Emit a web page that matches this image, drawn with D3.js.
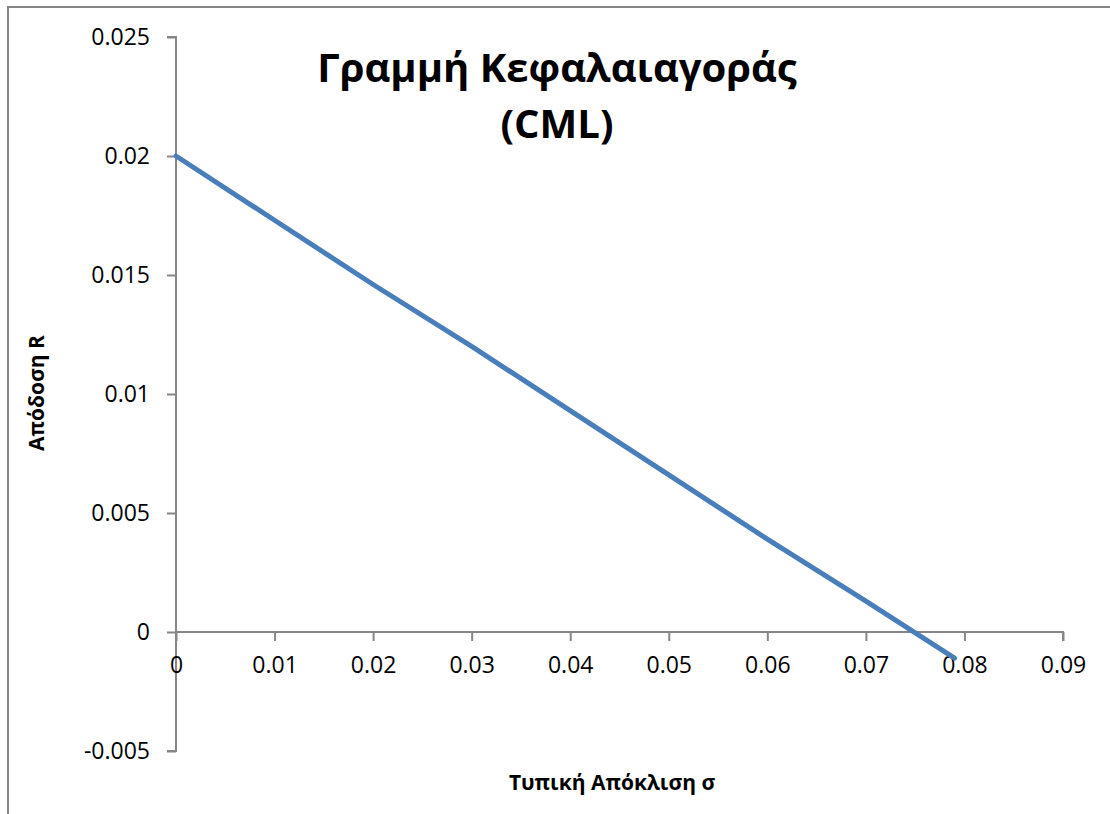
<!DOCTYPE html>
<html>
<head>
<meta charset="utf-8">
<script src="https://cdn.jsdelivr.net/npm/d3@7"></script>
<style>
  html, body { margin: 0; padding: 0; background: #fff; }
  svg { display: block; }
  text { font-family: "Open Sans", "Noto Sans", sans-serif; fill: #000; }
</style>
</head>
<body>
<svg id="chart" width="1110" height="814"></svg>
<script>
// Capital Market Line: expected return vs. standard deviation
const sigma = [0, 0.01, 0.02, 0.03, 0.04, 0.05, 0.06, 0.07, 0.079];
const returns = [0.02, 0.0173, 0.0146, 0.0120, 0.0093, 0.0066, 0.0039, 0.0013, -0.0011];

const xTicks = [0, 0.01, 0.02, 0.03, 0.04, 0.05, 0.06, 0.07, 0.08, 0.09];
const yTicks = [-0.005, 0, 0.005, 0.01, 0.015, 0.02, 0.025];

const titleLines = ["Γραμμή Κεφαλαιαγοράς", "(CML)"];
const xTitle = "Τυπική Απόκλιση σ";
const yTitle = "Απόδοση R";

const svg = d3.select("#chart");
const axisColor = "#868686";

// chart frame (top and left edges visible)
svg.append("path")
  .attr("d", "M8,814 L8,7 L1110,7")
  .attr("fill", "none")
  .attr("stroke", axisColor)
  .attr("stroke-width", 2);

const x = d3.scaleLinear().domain([0, 0.09]).range([176, 1063]);
const y = d3.scaleLinear().domain([-0.005, 0.025]).range([751, 37]);

// y axis
const yAxis = svg.append("g")
  .attr("transform", `translate(${x(0)},0)`)
  .call(d3.axisLeft(y).tickValues(yTicks).tickSize(9).tickPadding(17)
    .tickFormat(d => d === 0 ? "0" : String(+d.toFixed(3))));
// x axis at y = 0
const xAxis = svg.append("g")
  .attr("transform", `translate(0,${y(0)})`)
  .call(d3.axisBottom(x).tickValues(xTicks).tickSize(9).tickPadding(16)
    .tickFormat(d => d === 0 ? "0" : String(+d.toFixed(2))));

[yAxis, xAxis].forEach(g => {
  g.select(".domain").attr("stroke", axisColor).attr("stroke-width", 2);
  g.selectAll(".tick line").attr("stroke", axisColor).attr("stroke-width", 2);
  g.selectAll(".tick text")
    .style("font-family", "'Open Sans', sans-serif")
    .style("font-size", "23px")
    .attr("fill", "#000");
});
// trim the axis domains to the plot extents
xAxis.select(".domain").attr("d", `M${x(0)},0H${x(0.09)}V9`);
yAxis.select(".domain").attr("d", `M-9,${y(-0.005)}H0V${y(0.025)}H-9`);

// data line
const line = d3.line().x((d, i) => x(sigma[i])).y(d => y(d));
svg.append("path")
  .datum(returns)
  .attr("d", line)
  .attr("fill", "none")
  .attr("stroke", "#4A7EBB")
  .attr("stroke-width", 5)
  .attr("stroke-linecap", "round");

// title
svg.append("text")
  .attr("text-anchor", "middle")
  .style("font-size", "40px")
  .style("font-weight", "bold")
  .selectAll("tspan")
  .data(titleLines)
  .join("tspan")
  .attr("x", 557)
  .attr("y", (d, i) => 82 + i * 56)
  .text(d => d);

// axis titles
svg.append("text")
  .attr("x", 612)
  .attr("y", 790)
  .attr("text-anchor", "middle")
  .style("font-size", "21px")
  .style("font-weight", "bold")
  .text(xTitle);

svg.append("text")
  .attr("transform", "translate(44,393) rotate(-90)")
  .attr("text-anchor", "middle")
  .style("font-size", "21px")
  .style("font-weight", "bold")
  .text(yTitle);
</script>
</body>
</html>
